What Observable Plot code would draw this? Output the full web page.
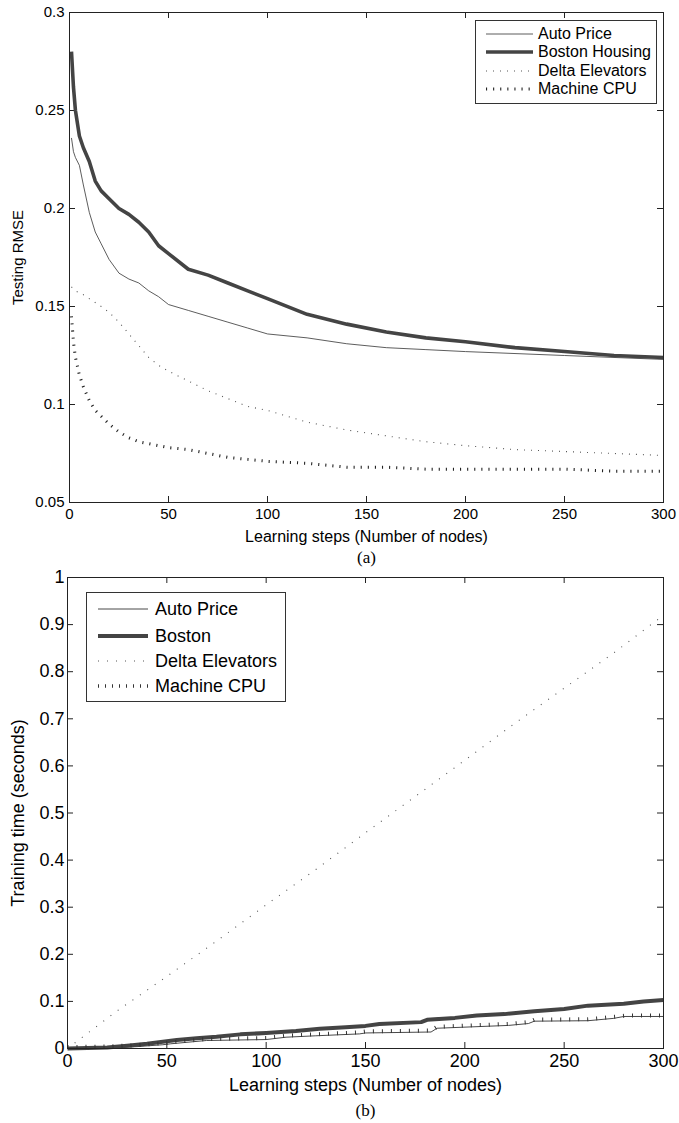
<!DOCTYPE html>
<html>
<head>
<meta charset="utf-8">
<script src="https://cdn.jsdelivr.net/npm/d3@7"></script>
<script src="https://cdn.jsdelivr.net/npm/@observablehq/plot@0.6"></script>
<style>
  html, body { margin: 0; padding: 0; background: #fff; }
  #wrap { position: relative; width: 679px; font-family: "Liberation Sans", Arial, sans-serif; }
  .legend { position: absolute; background: #fff; border: 1px solid #333; box-sizing: border-box; color: #000; }
  .legend .row { position: absolute; left: 0; display: flex; align-items: center; white-space: nowrap; }
  .legend svg { display: block; }
  svg.plot { display: block; }
</style>
</head>
<body>
<div id="wrap"></div>
<script>
// ---------- DATA ----------
const seriesNames = ["Auto Price", "Boston Housing", "Delta Elevators", "Machine CPU"];
const seriesNamesB = ["Auto Price", "Boston", "Delta Elevators", "Machine CPU"];

// (a) Testing RMSE vs learning steps
const stepsTop = [1,2,3,5,7,10,13,16,20,25,30,35,40,45,50,60,70,80,90,100,120,140,160,180,200,225,250,275,300];
const autoRMSE   = [0.236,0.229,0.226,0.222,0.212,0.198,0.188,0.182,0.174,0.167,0.164,0.162,0.158,0.155,0.151,0.148,0.145,0.142,0.139,0.136,0.134,0.131,0.129,0.128,0.127,0.126,0.125,0.124,0.123];
const bostonRMSE = [0.280,0.262,0.250,0.237,0.231,0.224,0.214,0.209,0.205,0.200,0.197,0.193,0.188,0.181,0.177,0.169,0.166,0.162,0.158,0.154,0.146,0.141,0.137,0.134,0.132,0.129,0.127,0.125,0.124];
const deltaRMSE  = [0.160,0.159,0.158,0.157,0.156,0.154,0.152,0.150,0.147,0.142,0.136,0.130,0.124,0.120,0.117,0.112,0.107,0.103,0.099,0.097,0.091,0.087,0.084,0.081,0.079,0.077,0.076,0.075,0.074];
const cpuRMSE    = [0.145,0.132,0.124,0.115,0.109,0.102,0.097,0.094,0.090,0.086,0.083,0.081,0.080,0.079,0.078,0.077,0.075,0.073,0.072,0.071,0.070,0.068,0.068,0.067,0.067,0.067,0.067,0.066,0.066];

// (b) Training time vs learning steps
const autoTimeSteps   = [0,20,35,48,52,70,100,110,125,147,150,183,186,222,232,235,262,275,280,300];
const autoTime        = [0,0.001,0.004,0.008,0.010,0.017,0.019,0.024,0.027,0.031,0.033,0.035,0.043,0.049,0.053,0.058,0.059,0.064,0.068,0.068];
const bostonTimeSteps = [0,20,30,40,47,55,65,75,87,100,115,127,140,150,157,178,181,195,206,220,235,250,262,280,290,300];
const bostonTime      = [0,0.002,0.006,0.010,0.014,0.018,0.022,0.025,0.030,0.033,0.037,0.042,0.045,0.048,0.052,0.056,0.061,0.065,0.070,0.073,0.079,0.084,0.091,0.095,0.100,0.103];
const deltaTimeSteps  = [0,25,50,75,100,125,150,175,200,225,250,275,300];
const deltaTime       = [0,0.080,0.153,0.228,0.305,0.380,0.458,0.535,0.612,0.690,0.765,0.840,0.920];
const cpuTimeSteps    = [0,20,35,48,52,70,100,110,125,147,150,183,186,222,232,235,262,275,282,300];
const cpuTime         = [0,0.001,0.004,0.008,0.010,0.017,0.019,0.024,0.027,0.031,0.033,0.035,0.043,0.049,0.053,0.058,0.059,0.064,0.067,0.067];

// axes
const xTicks = [0,50,100,150,200,250,300];
const xTickLabels = ["0","50","100","150","200","250","300"];
const yTicksTop = [0.05,0.1,0.15,0.2,0.25,0.3];
const yTickLabelsTop = ["0.05","0.1","0.15","0.2","0.25","0.3"];
const yTicksBot = [0,0.1,0.2,0.3,0.4,0.5,0.6,0.7,0.8,0.9,1];
const yTickLabelsBot = ["0","0.1","0.2","0.3","0.4","0.5","0.6","0.7","0.8","0.9","1"];

// ---------- STYLES ----------
const lineStyles = [
  {stroke: "#333", strokeWidth: 0.8},
  {stroke: "#444", strokeWidth: 3.6},
  {stroke: "#555", strokeWidth: 1.1, strokeDasharray: "1,6"},
  {stroke: "#222", strokeWidth: 3, strokeDasharray: "1.1,6"}
];

function rows(steps, vals) { return steps.map((s, i) => ({x: s, y: vals[i]})); }
function fmt(ticks, labels) { return d => labels[ticks.findIndex(t => Math.abs(t - d) < 1e-9)]; }

function boxTicks(W, H, m, xt, yt, len) {
  const fw = W - m.left - m.right, fh = H - m.top - m.bottom;
  return [
    Plot.ruleX(xt, {x: d => d, insetTop: fh - len, stroke: "#222"}),
    Plot.ruleX(xt, {x: d => d, insetBottom: fh - len, stroke: "#222"}),
    Plot.ruleY(yt, {y: d => d, insetRight: fw - len, stroke: "#222"}),
    Plot.ruleY(yt, {y: d => d, insetLeft: fw - len, stroke: "#222"})
  ];
}

const wrap = document.getElementById("wrap");

// ---------- (a) ----------
const W = 679;
const mA = {top: 12, bottom: 68, left: 69, right: 16};
const HA = 570;
const topSeries = [autoRMSE, bostonRMSE, deltaRMSE, cpuRMSE];
const plotA = Plot.plot({
  width: W, height: HA,
  marginTop: mA.top, marginBottom: mA.bottom, marginLeft: mA.left, marginRight: mA.right,
  x: {domain: [0, 300]},
  y: {domain: [0.05, 0.3]},
  style: {fontFamily: "'Liberation Sans', Arial, sans-serif", fontSize: "15px", color: "#000", background: "#fff", overflow: "visible"},
  marks: [
    Plot.axisX({ticks: xTicks, tickSize: 0, tickPadding: 6, tickFormat: fmt(xTicks, xTickLabels), label: null}),
    Plot.axisY({ticks: yTicksTop, tickSize: 0, tickPadding: 5, tickFormat: fmt(yTicksTop, yTickLabelsTop), label: null}),
    ...boxTicks(W, HA, mA, xTicks, yTicksTop, 6),
    ...topSeries.map((vals, i) => Plot.line(rows(stepsTop, vals), {x: "x", y: "y", ...lineStyles[i], strokeLinecap: "butt", strokeLinejoin: "round"})),
    Plot.frame({stroke: "#222", strokeWidth: 1}),
    Plot.text(["Learning steps (Number of nodes)"], {text: d => d, frameAnchor: "bottom", lineAnchor: "middle", textAnchor: "middle", dy: 34, fontSize: 16}),
    Plot.text(["(a)"], {text: d => d, frameAnchor: "bottom", lineAnchor: "middle", textAnchor: "middle", dy: 55, fontSize: 17, fontFamily: "'Liberation Serif', 'Times New Roman', serif"}),
    Plot.text(["Testing RMSE"], {text: d => d, frameAnchor: "left", lineAnchor: "middle", textAnchor: "middle", dx: -51, rotate: -90, fontSize: 15})
  ]
});
plotA.classList.add("plot");
wrap.appendChild(plotA);

// ---------- (b) ----------
const mB = {top: 7, bottom: 75, left: 67, right: 16};
const HB = 553;
const botData = [
  [autoTimeSteps, autoTime],
  [bostonTimeSteps, bostonTime],
  [deltaTimeSteps, deltaTime],
  [cpuTimeSteps, cpuTime]
];
const lineStylesB = [
  {stroke: "#333", strokeWidth: 0.9},
  {stroke: "#444", strokeWidth: 4},
  {stroke: "#555", strokeWidth: 1.1, strokeDasharray: "1,8"},
  {stroke: "#333", strokeWidth: 4, strokeDasharray: "1,8", dy: -1.5}
];
const plotB = Plot.plot({
  width: W, height: HB,
  marginTop: mB.top, marginBottom: mB.bottom, marginLeft: mB.left, marginRight: mB.right,
  x: {domain: [0, 300]},
  y: {domain: [0, 1]},
  style: {fontFamily: "'Liberation Sans', Arial, sans-serif", fontSize: "18px", color: "#000", background: "#fff", overflow: "visible"},
  marks: [
    Plot.axisX({ticks: xTicks, tickSize: 0, tickPadding: 6, tickFormat: fmt(xTicks, xTickLabels), label: null}),
    Plot.axisY({ticks: yTicksBot, tickSize: 0, tickPadding: 3, tickFormat: fmt(yTicksBot, yTickLabelsBot), label: null}),
    ...boxTicks(W, HB, mB, xTicks, yTicksBot, 6),
    ...botData.map(([s, v], i) => Plot.line(rows(s, v), {x: "x", y: "y", ...lineStylesB[i], strokeLinecap: "butt", strokeLinejoin: "round"})),
    Plot.frame({stroke: "#222", strokeWidth: 1}),
    Plot.text(["Learning steps (Number of nodes)"], {text: d => d, frameAnchor: "bottom", lineAnchor: "middle", textAnchor: "middle", dy: 37, fontSize: 18}),
    Plot.text(["(b)"], {text: d => d, frameAnchor: "bottom", lineAnchor: "middle", textAnchor: "middle", dy: 62, fontSize: 17, fontFamily: "'Liberation Serif', 'Times New Roman', serif"}),
    Plot.text(["Training time (seconds)"], {text: d => d, frameAnchor: "left", lineAnchor: "middle", textAnchor: "middle", dx: -49, rotate: -90, fontSize: 18})
  ]
});
plotB.classList.add("plot");
wrap.appendChild(plotB);

// ---------- legends ----------
function legend(names, styles, box, rowYs, sampleX, sampleW, textX, fontSize) {
  const div = document.createElement("div");
  div.className = "legend";
  Object.assign(div.style, {left: box.x + "px", top: box.y + "px", width: box.w + "px", height: box.h + "px"});
  names.forEach((name, i) => {
    const row = document.createElement("div");
    row.className = "row";
    row.style.top = (rowYs[i] - 10) + "px";
    row.style.height = "20px";
    const st = styles[i];
    const svg = d3.create("svg").attr("width", textX).attr("height", 20);
    svg.append("line").attr("x1", sampleX).attr("x2", sampleX + sampleW).attr("y1", 10).attr("y2", 10)
      .attr("stroke", st.stroke).attr("stroke-width", st.strokeWidth)
      .attr("stroke-dasharray", st.strokeDasharray || null);
    row.appendChild(svg.node());
    const span = document.createElement("span");
    span.textContent = name;
    span.style.fontSize = fontSize + "px";
    span.style.lineHeight = "20px";
    row.appendChild(span);
    div.appendChild(row);
  });
  wrap.appendChild(div);
}
legend(seriesNames, lineStyles, {x: 475, y: 20, w: 182, h: 84}, [13, 31, 50, 68], 10, 47, 62, 16);
legend(seriesNamesB, [lineStylesB[0], lineStylesB[1], lineStylesB[2], {stroke: "#333", strokeWidth: 3.5, strokeDasharray: "1,6"}],
  {x: 86, y: 592 + HA - 570, w: 200, h: 110}, [16, 43, 68, 93], 11, 50, 68, 18);
</script>
</body>
</html>
